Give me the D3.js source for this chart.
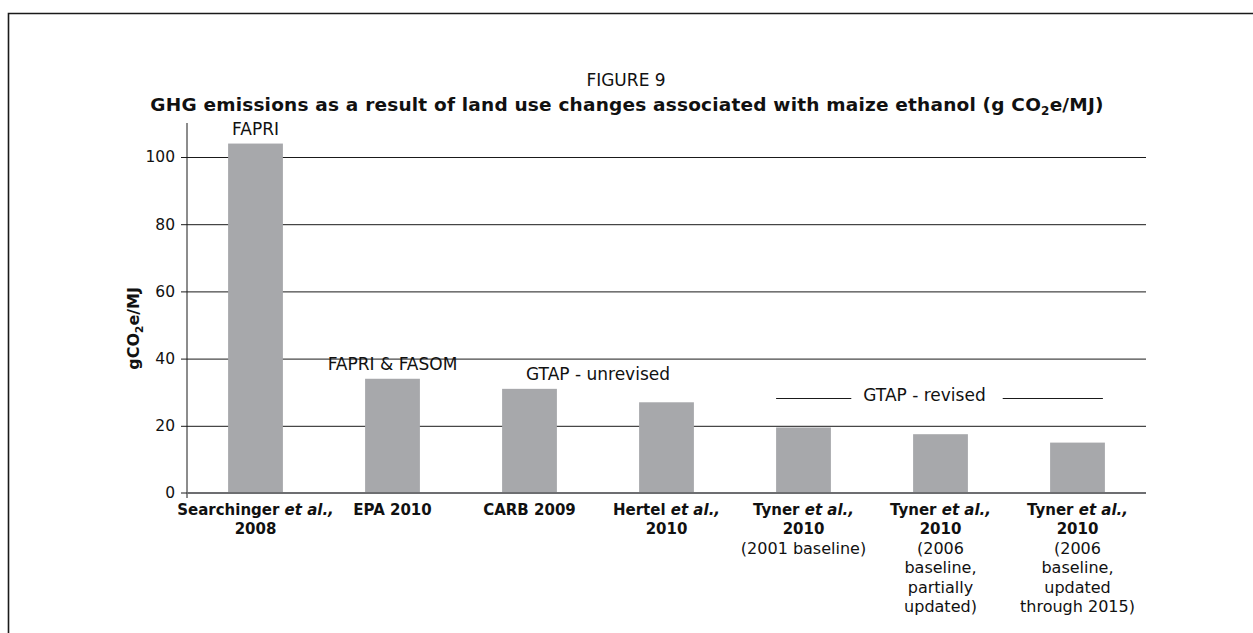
<!DOCTYPE html>
<html>
<head>
<meta charset="utf-8">
<script src="https://cdn.jsdelivr.net/npm/d3@7"></script>
<style>
  body { margin: 0; background: #fff; }
  svg { display: block; }
  text { font-family: "DejaVu Sans", sans-serif; fill: #111; }
</style>
</head>
<body>
<svg id="chart" width="1253" height="633"></svg>
<script>
// Land-use-change emissions for maize ethanol, g CO2e per MJ
const studies = [
  "Searchinger et al., 2008",
  "EPA 2010",
  "CARB 2009",
  "Hertel et al., 2010",
  "Tyner et al., 2010 (2001 baseline)",
  "Tyner et al., 2010 (2006 baseline, partially updated)",
  "Tyner et al., 2010 (2006 baseline, updated through 2015)"
];
const emissions = [104, 34, 31, 27, 19.5, 17.5, 15];
const yTicks = [0, 20, 40, 60, 80, 100];

// Axis label lines: *...* is italic, a leading ~ marks a regular-weight line
const studyLabelLines = [
  ["Searchinger *et al.,*", "2008"],
  ["EPA 2010"],
  ["CARB 2009"],
  ["Hertel *et al.,*", "2010"],
  ["Tyner *et al.,*", "2010", "~(2001 baseline)"],
  ["Tyner *et al.,*", "2010", "~(2006", "~baseline,", "~partially", "~updated)"],
  ["Tyner *et al.,*", "2010", "~(2006", "~baseline,", "~updated", "~through 2015)"]
];

// Economic model behind each group of studies
const modelNames = ["FAPRI", "FAPRI & FASOM", "GTAP - unrevised", "GTAP - revised"];
const modelSpans = [[0, 0], [1, 1], [2, 3], [4, 6]];

const svg = d3.select("#chart");
const W = 1253, H = 633;
const plot = { left: 187, right: 1146, top: 123, bottom: 493 };

// outer frame (open at right and bottom)
svg.append("path")
  .attr("d", `M8.5,${H} V13.5 H${W}`)
  .attr("fill", "none")
  .attr("stroke", "#1a1a1a")
  .attr("stroke-width", 1.6);

// titles
svg.append("text")
  .attr("x", 626).attr("y", 86)
  .attr("text-anchor", "middle")
  .style("font-size", "17px")
  .text("FIGURE 9");

const title = svg.append("text")
  .attr("x", 627).attr("y", 111)
  .attr("text-anchor", "middle")
  .style("font-size", "18.5px")
  .style("letter-spacing", "0.2px")
  .style("font-weight", "bold");
title.append("tspan").text("GHG emissions as a result of land use changes associated with maize ethanol (g CO");
title.append("tspan").attr("dy", 4).style("font-size", "12px").text("2");
title.append("tspan").attr("dy", -4).text("e/MJ)");

const x = d3.scaleBand()
  .domain(studies)
  .range([plot.left, plot.right])
  .paddingInner(0.6)
  .paddingOuter(0.3);

const y = d3.scaleLinear()
  .domain([0, 100])
  .range([plot.bottom, 157]);

// gridlines with ticks and labels
const yAxis = d3.axisLeft(y)
  .tickValues(yTicks)
  .tickSize(-(plot.right - plot.left))
  .tickPadding(10)
  .tickFormat(d3.format("d"));

const gy = svg.append("g")
  .attr("transform", `translate(${plot.left},0)`)
  .call(yAxis);
gy.select(".domain").remove();
gy.selectAll(".tick line")
  .attr("x1", -6)
  .attr("stroke", "#1a1a1a")
  .attr("stroke-width", 1);
gy.selectAll(".tick text")
  .attr("x", -12)
  .style("font-family", "DejaVu Sans, sans-serif")
  .style("font-size", "15.5px")
  .attr("fill", "#111");
gy.selectAll(".tick").filter(d => d === 0).select("line").remove();

// vertical axis line
svg.append("line")
  .attr("x1", plot.left).attr("x2", plot.left)
  .attr("y1", plot.top).attr("y2", plot.bottom + 5)
  .attr("stroke", "#1a1a1a").attr("stroke-width", 1);
svg.append("line")
  .attr("x1", plot.left - 6).attr("x2", plot.left)
  .attr("y1", y(0)).attr("y2", y(0))
  .attr("stroke", "#1a1a1a").attr("stroke-width", 1);

// bars
svg.append("g").selectAll("rect")
  .data(emissions)
  .join("rect")
  .attr("x", (d, i) => x(studies[i]))
  .attr("width", x.bandwidth())
  .attr("y", d => y(d))
  .attr("height", d => y(0) - y(d))
  .attr("fill", "#a7a8ab");

// baseline
svg.append("line")
  .attr("x1", plot.left).attr("x2", plot.right)
  .attr("y1", y(0)).attr("y2", y(0))
  .attr("stroke", "#6d6e71").attr("stroke-width", 2);

// y-axis title
const yl = svg.append("text")
  .attr("transform", `translate(139,${y(49)}) rotate(-90)`)
  .attr("text-anchor", "middle")
  .style("font-size", "16px")
  .style("font-weight", "bold");
yl.append("tspan").text("gCO");
yl.append("tspan").attr("dy", 4).style("font-size", "10.5px").text("2");
yl.append("tspan").attr("dy", -4).text("e/MJ");

// category labels
const lineH = 19.4;
const gx = svg.append("g");
studyLabelLines.forEach((lines, i) => {
  const cx = x(studies[i]) + x.bandwidth() / 2;
  lines.forEach((raw, j) => {
    const regular = raw.startsWith("~");
    const s = regular ? raw.slice(1) : raw;
    const t = gx.append("text")
      .attr("x", cx)
      .attr("y", 515 + j * lineH)
      .attr("text-anchor", "middle")
      .style("font-size", regular ? "16px" : "15px")
      .style("font-weight", regular ? "normal" : "bold");
    s.split("*").forEach((part, k) => {
      if (!part) return;
      t.append("tspan")
        .style("font-style", k % 2 ? "italic" : "normal")
        .text(part);
    });
  });
});

// model annotations
modelNames.forEach((name, g) => {
  const [a, b] = modelSpans[g];
  const vals = emissions.slice(a, b + 1);
  const top = y(d3.max(vals));
  const left = x(studies[a]);
  const right = x(studies[b]) + x.bandwidth();
  const bracket = b - a > 1;
  const cx = bracket ? (left + right) / 2 - 16 : (x(studies[a]) + x(studies[b]) + x.bandwidth()) / 2;
  const baseY = bracket ? top - 26 : top - 9;
  const t = svg.append("text")
    .attr("x", cx)
    .attr("y", baseY)
    .attr("text-anchor", "middle")
    .style("font-size", "17px")
    .text(name);
  if (bracket) {
    const w = t.node().getComputedTextLength();
    const rule = [[left, cx - w / 2 - 12], [cx + w / 2 + 17, right - 2]];
    svg.append("g").selectAll("line")
      .data(rule)
      .join("line")
      .attr("x1", d => d[0]).attr("x2", d => d[1])
      .attr("y1", baseY - 3).attr("y2", baseY - 3)
      .attr("stroke", "#1a1a1a").attr("stroke-width", 1.2);
  }
});
</script>
</body>
</html>
